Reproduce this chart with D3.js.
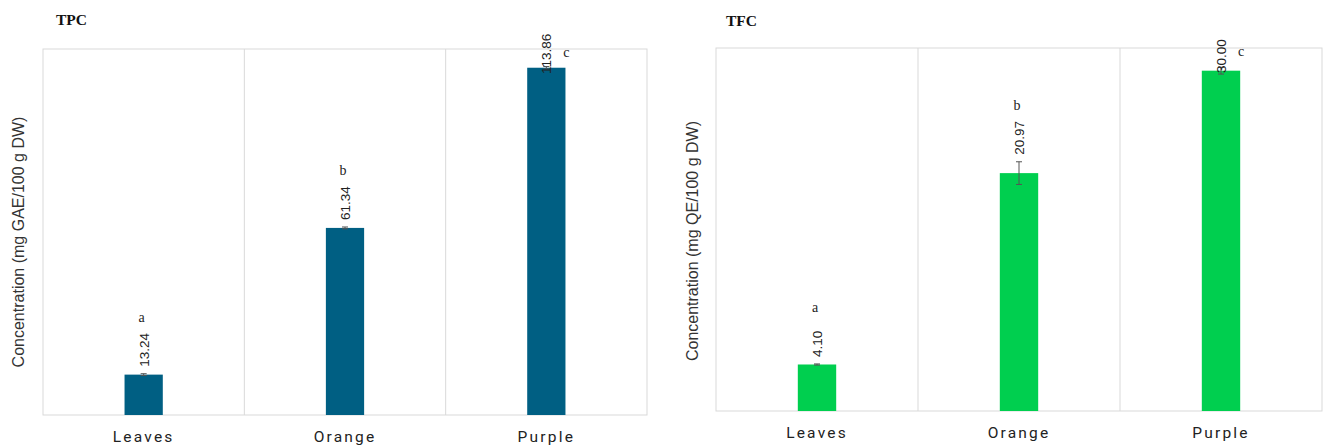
<!DOCTYPE html>
<html>
<head>
<meta charset="utf-8">
<script src="https://cdn.jsdelivr.net/npm/d3@7"></script>
<style>
  body { margin: 0; background: #fff; }
  svg { display: block; }
</style>
</head>
<body>
<svg id="chart" width="1323" height="445"></svg>
<script>
// data
const categories = ["Leaves", "Orange", "Purple"];
const tpcValues = [13.24, 61.34, 113.86];
const tpcErrors = [0.3, 0.3, 0.4];
const tpcLetters = ["a", "b", "c"];
const tfcValues = [4.10, 20.97, 30.00];
const tfcErrors = [0.05, 1.0, 0.3];
const tfcLetters = ["a", "b", "c"];

const svg = d3.select("#chart");

const panels = [
  {
    title: "TPC", titleX: 56, titleY: 25,
    yLabel: "Concentration (mg GAE/100 g DW)", yLabelX: 24, yLabelMid: 242,
    values: tpcValues, errors: tpcErrors, letters: tpcLetters,
    color: "#005f83", ymax: 120,
    left: 43, right: 647, top: 49, bottom: 415, catY: 442
  },
  {
    title: "TFC", titleX: 726, titleY: 26,
    yLabel: "Concentration (mg QE/100 g DW)", yLabelX: 698, yLabelMid: 241,
    values: tfcValues, errors: tfcErrors, letters: tfcLetters,
    color: "#00cf4f", ymax: 32,
    left: 716, right: 1322, top: 48, bottom: 411, catY: 438
  }
];

panels.forEach(p => {
  const g = svg.append("g");

  const x = d3.scaleBand().domain(categories).range([p.left, p.right]).padding(0);
  const y = d3.scaleLinear().domain([0, p.ymax]).range([p.bottom, p.top]);
  const barW = x.bandwidth() * 0.19;

  // frame + category separators
  g.append("rect")
    .attr("x", p.left).attr("y", p.top)
    .attr("width", p.right - p.left).attr("height", p.bottom - p.top)
    .attr("fill", "none").attr("stroke", "#d9d9d9").attr("stroke-width", 1);
  g.selectAll("line.sep")
    .data(categories.slice(1))
    .enter().append("line")
    .attr("class", "sep")
    .attr("x1", d => x(d)).attr("x2", d => x(d))
    .attr("y1", p.top).attr("y2", p.bottom)
    .attr("stroke", "#d9d9d9");

  const rows = categories.map((c, i) => ({ c, v: p.values[i], e: p.errors[i], l: p.letters[i] }));

  // bars
  g.selectAll("rect.bar")
    .data(rows)
    .enter().append("rect")
    .attr("class", "bar")
    .attr("x", d => x(d.c) + x.bandwidth() / 2 - barW / 2)
    .attr("y", d => y(d.v))
    .attr("width", barW)
    .attr("height", d => y(0) - y(d.v))
    .attr("fill", p.color);

  // error bars
  const eb = g.selectAll("g.err").data(rows).enter().append("g").attr("class", "err");
  eb.append("line")
    .attr("x1", d => x(d.c) + x.bandwidth() / 2).attr("x2", d => x(d.c) + x.bandwidth() / 2)
    .attr("y1", d => y(d.v + d.e)).attr("y2", d => y(d.v - d.e))
    .attr("stroke", "#555").attr("stroke-width", 1);
  eb.selectAll("line.cap")
    .data(d => [d.v + d.e, d.v - d.e].map(v => ({ c: d.c, v })))
    .enter().append("line")
    .attr("class", "cap")
    .attr("x1", d => x(d.c) + x.bandwidth() / 2 - 3).attr("x2", d => x(d.c) + x.bandwidth() / 2 + 3)
    .attr("y1", d => y(d.v)).attr("y2", d => y(d.v))
    .attr("stroke", "#555").attr("stroke-width", 1);

  // value labels (rotated) and significance letters
  const labLen = 36;
  rows.forEach(d => {
    const cx = x(d.c) + x.bandwidth() / 2;
    let start = y(d.v + d.e) - 7;
    let letterX = cx - 2, letterY;
    if (start - labLen < p.top - 11) {
      start = p.top - 11 + labLen;
      letterX = cx + 20;
      letterY = p.top + 8;
    } else {
      letterY = start - labLen - 9;
    }
    g.append("text")
      .attr("transform", `translate(${cx + 5},${start}) rotate(-90)`)
      .attr("font-family", "Liberation Sans, Arial, sans-serif")
      .attr("font-size", 13.5)
      .attr("fill", "#222")
      .text(d.v.toFixed(2));
    g.append("text")
      .attr("x", letterX).attr("y", letterY)
      .attr("text-anchor", "middle")
      .attr("font-family", "Liberation Serif, serif")
      .attr("font-size", 14)
      .attr("fill", "#222")
      .text(d.l);
  });

  // category axis
  g.selectAll("text.cat")
    .data(categories)
    .enter().append("text")
    .attr("class", "cat")
    .attr("x", d => x(d) + x.bandwidth() / 2)
    .attr("y", p.catY)
    .attr("text-anchor", "middle")
    .attr("font-family", "Roboto, sans-serif")
    .attr("font-size", 15.5)
    .attr("letter-spacing", 2.2)
    .attr("fill", "#222")
    .text(d => d);

  // y label
  g.append("text")
    .attr("transform", `translate(${p.yLabelX},${p.yLabelMid}) rotate(-90)`)
    .attr("text-anchor", "middle")
    .attr("font-family", "Liberation Sans, Arial, sans-serif")
    .attr("font-size", 16)
    .attr("fill", "#333")
    .text(p.yLabel);

  // panel title
  g.append("text")
    .attr("x", p.titleX).attr("y", p.titleY)
    .attr("font-family", "Liberation Serif, serif")
    .attr("font-weight", "bold")
    .attr("font-size", 15.5)
    .attr("fill", "#111")
    .text(p.title);
});
</script>
</body>
</html>
